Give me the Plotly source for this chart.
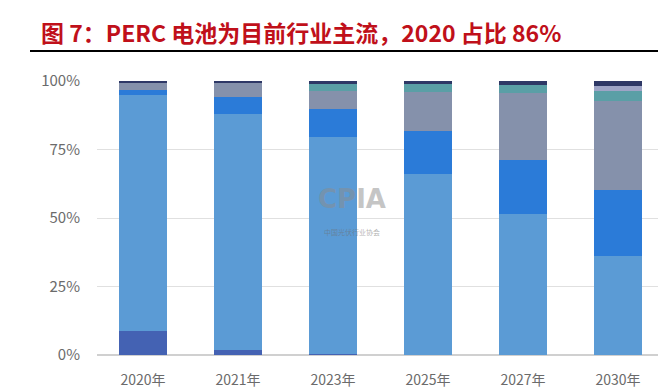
import plotly.graph_objects as go

categories = ["2020年", "2021年", "2023年", "2025年", "2027年", "2030年"]
s_bsf = [8.8, 2.0, 0.5, 0.0, 0.0, 0.0]
s_perc = [86.1, 85.8, 79.1, 66.0, 51.5, 36.1]
s_topcon = [1.8, 6.2, 10.2, 15.8, 19.7, 24.1]
s_hjt = [2.9, 5.6, 6.6, 14.1, 24.4, 32.6]
s_teal = [0.0, 0.0, 2.5, 2.9, 2.8, 3.5]
s_lav = [0.0, 0.0, 0.0, 0.0, 0.0, 1.9]
s_navy = [0.4, 0.4, 1.1, 1.2, 1.6, 1.8]
y_ticks = [0, 25, 50, 75, 100]
y_labels = ["0%", "25%", "50%", "75%", "100%"]

series = [
    (s_bsf, "#4462b3"),
    (s_perc, "#5b9bd5"),
    (s_topcon, "#2b7bd8"),
    (s_hjt, "#8591ab"),
    (s_teal, "#5a9fa6"),
    (s_lav, "#9ea4c6"),
    (s_navy, "#2e3866"),
]

fig = go.Figure()
for vals, col in series:
    fig.add_trace(go.Bar(x=categories, y=vals, marker=dict(color=col, line=dict(width=0)),
                         width=0.505, showlegend=False))

PW, PH = 561, 274
fig.update_layout(
    barmode="stack",
    width=658, height=390,
    margin=dict(l=97, r=0, t=81, b=35, autoexpand=False),
    plot_bgcolor="white", paper_bgcolor="white",
    font=dict(family="Noto Sans CJK SC", color="#6b6b6b"),
    xaxis=dict(range=[-0.484, 5.42], showgrid=False, showline=False, ticks="",
               automargin=False,
               tickfont=dict(size=14, color="#6b6b6b"), ticklabelstandoff=15),
    yaxis=dict(range=[0, 100], tickvals=y_ticks, ticktext=y_labels, showgrid=True,
               automargin=False,
               gridcolor="#e0e0e0", gridwidth=1, zeroline=True, zerolinecolor="#d0d0d0",
               showline=False, ticks="", tickfont=dict(size=15, color="#6b6b6b"),
               ticklabelstandoff=16),
    shapes=[dict(type="line", xref="paper", yref="paper", x0=-67/PW, x1=1,
                 y0=(355-51)/PH, y1=(355-51)/PH, line=dict(color="black", width=2))],
    annotations=[
        dict(text="<b>图 7：PERC 电池为目前行业主流，2020 占比 86%</b>", xref="paper", yref="paper",
             x=-58/PW, y=(355-32)/PH, xanchor="left", yanchor="middle", showarrow=False,
             font=dict(size=23, color="#c0101a", family="Noto Sans CJK SC")),
        dict(text="<b>CPIA</b>", x=2.2, y=57, xref="x", yref="y", showarrow=False,
             font=dict(size=26, color="rgba(140,140,140,0.5)", family="DejaVu Sans")),
        dict(text="中国光伏行业协会", x=2.2, y=45, xref="x", yref="y", showarrow=False,
             font=dict(size=7, color="rgba(110,110,110,0.55)")),
    ],
)

fig.write_html("out.html", config={"displayModeBar": False},
               post_script="document.body.style.margin='0';document.body.style.overflow='hidden';")
